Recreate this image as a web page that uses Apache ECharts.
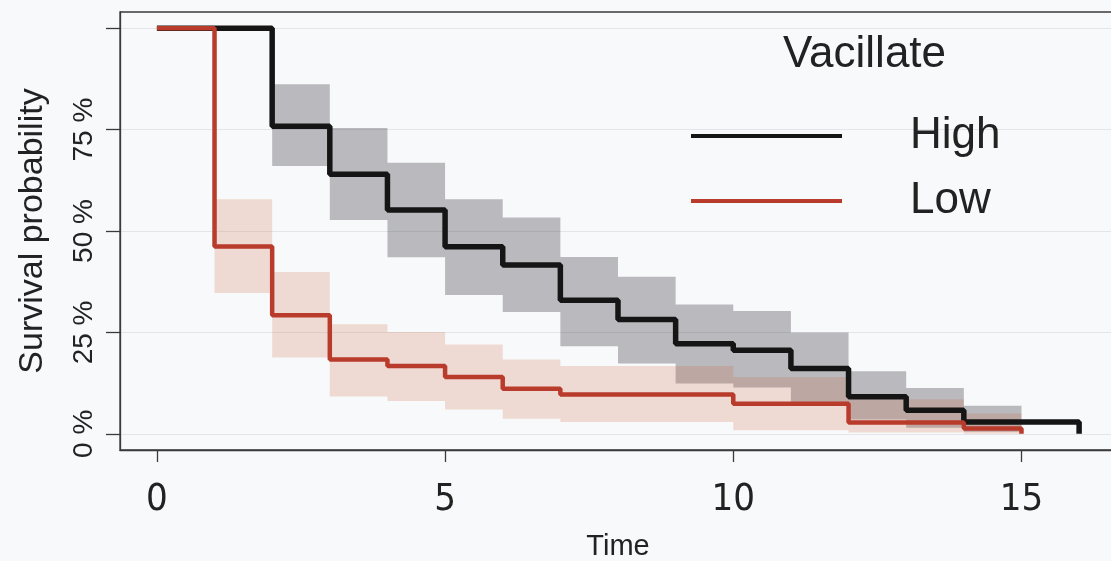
<!DOCTYPE html>
<html>
<head>
<meta charset="utf-8">
<script src="https://cdn.jsdelivr.net/npm/echarts@6/dist/echarts.min.js"></script>
<style>
  html, body { margin: 0; padding: 0; background: #f8f9fa; }
  #chart { width: 1111px; height: 561px; }
</style>
</head>
<body>
<div id="chart"></div>
<script>
// Kaplan-Meier curves (survival in %), step changes at these times
var highTimes = [0, 2, 3, 4, 5, 6, 7, 8, 9, 10, 11, 12, 13, 14, 16];
var highSurv = [100, 75.8, 64.0, 55.2, 46.1, 41.6, 32.9, 28.2, 22.2, 20.6, 16.1, 9.1, 5.8, 2.9, 0];
var lowTimes = [0, 1, 2, 3, 4, 5, 6, 7, 10, 12, 14, 15];
var lowSurv = [100, 46.2, 29.2, 18.3, 16.7, 14.0, 11.1, 9.7, 7.4, 2.8, 1.3, 0];

// confidence bands: interval starts, last interval ends at bandEnd
var highBandStart = [2, 3, 4, 5, 6, 7, 8, 9, 10, 11, 12, 13, 14];
var highUpper = [86.2, 75.4, 66.8, 57.8, 53.3, 43.6, 38.7, 31.9, 30.3, 25.0, 15.4, 11.3, 6.9];
var highLower = [66.0, 52.7, 43.5, 34.2, 30.0, 21.6, 17.3, 12.4, 11.4, 7.8, 3.5, 1.5, 0.5];
var highBandEnd = 15;
var lowBandStart = [1, 2, 3, 4, 5, 6, 7, 10, 12, 14];
var lowUpper = [57.8, 39.9, 27.0, 25.1, 22.0, 18.3, 16.7, 14.0, 8.5, 5.0];
var lowLower = [34.7, 18.8, 9.2, 8.1, 6.0, 3.7, 2.9, 0.9, 0.3, 0];
var lowBandEnd = 15;

var xTicks = [0, 5, 10, 15];
var yTicks = [0, 25, 50, 75, 100];
var yLabels = [0, 25, 50, 75];

var font = "'Liberation Sans', Arial, sans-serif";

function pairs(xs, ys) {
  return xs.map(function (x, i) { return [x, ys[i]]; });
}

function bandSeries(name, starts, end, upper, lower, color) {
  return {
    name: name,
    type: 'custom',
    silent: true,
    z: 1,
    data: [[starts[0], lower[0]]],
    renderItem: function (params, api) {
      var pts = [];
      for (var i = 0; i < starts.length; i++) {
        var t1 = i + 1 < starts.length ? starts[i + 1] : end;
        pts.push(api.coord([starts[i], upper[i]]));
        pts.push(api.coord([t1, upper[i]]));
      }
      for (var j = starts.length - 1; j >= 0; j--) {
        var t2 = j + 1 < starts.length ? starts[j + 1] : end;
        pts.push(api.coord([t2, lower[j]]));
        pts.push(api.coord([starts[j], lower[j]]));
      }
      return { type: 'polygon', shape: { points: pts }, style: { fill: color } };
    }
  };
}

var chart = echarts.init(document.getElementById('chart'));

var option = {
  animation: false,
  backgroundColor: '#f8f9fa',
  title: {
    text: 'Vacillate',
    left: 778,
    top: 28,
    textStyle: { fontFamily: font, fontSize: 44, fontWeight: 'normal', color: '#222' }
  },
  legend: {
    data: ['High', 'Low'],
    orient: 'vertical',
    left: 686,
    top: 106,
    icon: 'rect',
    itemWidth: 151,
    itemHeight: 4,
    itemGap: 15,
    textStyle: {
      fontFamily: font, fontSize: 44, color: '#222',
      lineHeight: 50, padding: [0, 0, 0, 63]
    }
  },
  grid: {
    left: 120,
    right: -5,
    top: 12,
    bottom: 111,
    outerBoundsMode: 'none',
    containLabel: false,
    show: true,
    borderColor: '#3a3a3a',
    borderWidth: 1.3,
    backgroundColor: 'transparent'
  },
  xAxis: {
    type: 'value',
    min: -0.64,
    max: 16.64,
    name: 'Time',
    nameLocation: 'middle',
    nameGap: 82,
    nameTextStyle: { fontFamily: font, fontSize: 29, color: '#222' },
    axisLine: { show: true, onZero: false, lineStyle: { color: '#3a3a3a', width: 1.3 } },
    axisTick: { show: true, inside: false, length: 12, customValues: xTicks, lineStyle: { color: '#3a3a3a', width: 1.3 } },
    axisLabel: {
      customValues: xTicks,
      margin: 31,
      fontFamily: "'Liberation Sans Narrow', 'DejaVu Sans Condensed', sans-serif",
      fontSize: 38,
      color: '#222'
    },
    splitLine: { show: false }
  },
  yAxis: {
    type: 'value',
    min: -4,
    max: 104,
    name: 'Survival probability',
    nameLocation: 'middle',
    nameRotate: 90,
    nameGap: 70,
    nameTextStyle: { fontFamily: font, fontSize: 34, color: '#222' },
    axisLine: { show: true, onZero: false, lineStyle: { color: '#3a3a3a', width: 1.3 } },
    axisTick: { show: true, inside: false, length: 14, customValues: yTicks, lineStyle: { color: '#3a3a3a', width: 1.3 } },
    axisLabel: {
      customValues: yLabels,
      rotate: 90,
      margin: 22,
      formatter: '{value} %',
      fontFamily: font,
      fontSize: 28,
      color: '#222'
    },
    splitLine: { show: false }
  },
  series: [
    bandSeries('High CI', highBandStart, highBandEnd, highUpper, highLower, 'rgba(20,20,30,0.27)'),
    bandSeries('Low CI', lowBandStart, lowBandEnd, lowUpper, lowLower, 'rgba(205,95,55,0.2)'),
    {
      name: 'High',
      type: 'line',
      step: 'end',
      z: 3,
      symbol: 'none',
      color: '#151515',
      lineStyle: { width: 5.5, color: '#151515' },
      data: pairs(highTimes, highSurv),
      markLine: {
        silent: true,
        symbol: 'none',
        label: { show: false },
        lineStyle: { color: '#e4e5ea', width: 1, type: 'solid' },
        z: 0,
        data: yTicks.map(function (v) { return { yAxis: v }; })
      }
    },
    {
      name: 'Low',
      type: 'line',
      step: 'end',
      z: 4,
      symbol: 'none',
      color: '#b83b2c',
      lineStyle: { width: 4.5, color: '#b83b2c' },
      data: pairs(lowTimes, lowSurv)
    }
  ]
};

chart.setOption(option);
</script>
</body>
</html>
